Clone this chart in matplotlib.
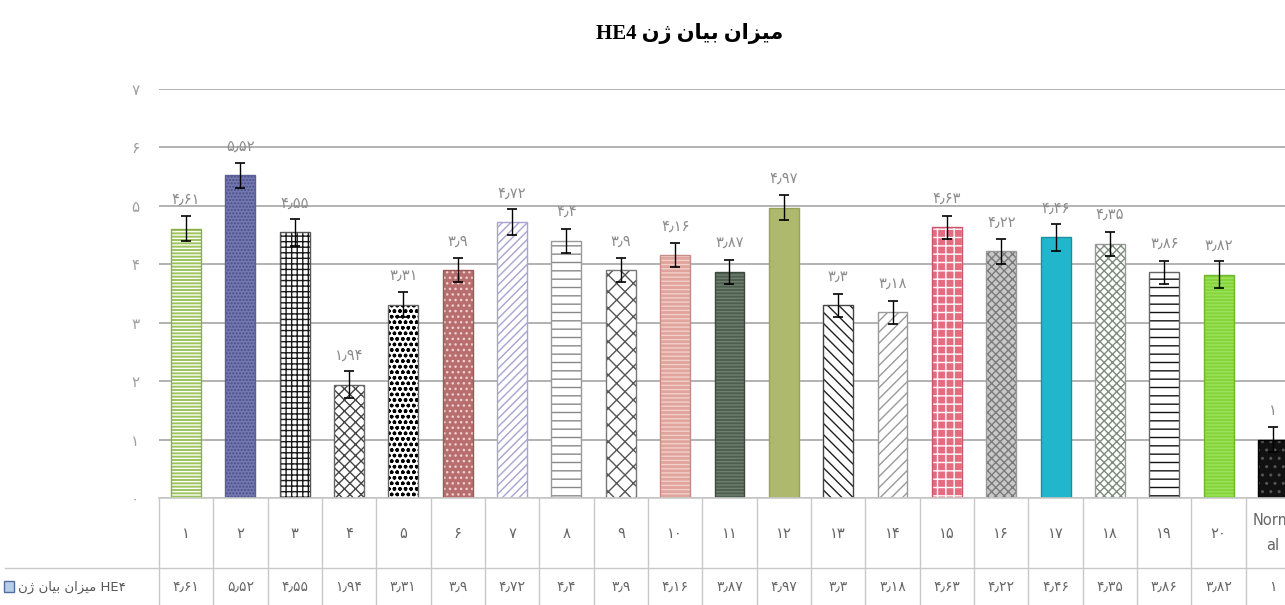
import matplotlib
matplotlib.use("Agg")
import matplotlib.pyplot as plt
from matplotlib.transforms import blended_transform_factory
from matplotlib.lines import Line2D
from matplotlib.patches import Rectangle

# ---------------- data ----------------
categories = ['۱', '۲', '۳', '۴', '۵', '۶', '۷', '۸', '۹', '۱۰',
              '۱۱', '۱۲', '۱۳', '۱۴', '۱۵', '۱۶', '۱۷', '۱۸', '۱۹', '۲۰', 'Normal']
values = [4.61, 5.52, 4.55, 1.94, 3.31, 3.9, 4.72, 4.4, 3.9, 4.16,
          3.87, 4.97, 3.3, 3.18, 4.63, 4.22, 4.46, 4.35, 3.86, 3.82, 1]
errors = [0.22, 0.22, 0.23, 0.23, 0.21, 0.21, 0.22, 0.21, 0.2, 0.2,
          0.21, 0.22, 0.2, 0.2, 0.2, 0.22, 0.23, 0.21, 0.2, 0.23, 0.22]
yticks = [0, 1, 2, 3, 4, 5, 6, 7]
title_fa = 'میزان بیان ژن'
title_en = 'HE4'
series_fa = 'میزان بیان ژن'
series_en = 'HE۴'

# ---------------- helpers ----------------
FORMS = {
    'م': ('\uFEE1', '\uFEE2', '\uFEE3', '\uFEE4'),
    'ی': ('\uFBFC', '\uFBFD', '\uFBFE', '\uFBFF'),
    'ن': ('\uFEE5', '\uFEE6', '\uFEE7', '\uFEE8'),
    'ب': ('\uFE8F', '\uFE90', '\uFE91', '\uFE92'),
    'ز': ('\uFEAF', '\uFEB0', None, None),
    'ا': ('\uFE8D', '\uFE8E', None, None),
    'ژ': ('\uFB8A', '\uFB8B', None, None),
}


def shape_rtl(text):
    out = []
    n = len(text)
    for i, ch in enumerate(text):
        if ch not in FORMS:
            out.append(ch)
            continue
        f = FORMS[ch]
        prev = text[i - 1] if i > 0 else None
        nxt = text[i + 1] if i < n - 1 else None
        jp = prev in FORMS and FORMS[prev][2] is not None
        jn = nxt in FORMS and f[2] is not None
        if jp and jn:
            out.append(f[3])
        elif jp:
            out.append(f[1])
        elif jn:
            out.append(f[2])
        else:
            out.append(f[0])
    return ''.join(reversed(out))


FA = str.maketrans('0123456789.', '۰۱۲۳۴۵۶۷۸۹٫')


def fa_num(v):
    return ('{:g}'.format(v)).translate(FA)


# bar styles: face, hatch, hatch colour, edge
styles = [
    ('#9DC35B', '-----', 'white', '#8AB04A'),
    ('#7478B0', '.....', '#4A4E85', '#5C6096'),
    ('white', '+++', '#1A1A1A', '#555555'),
    ('white', 'xxx', '#444444', '#666666'),
    ('white', 'ooo', '#000000', '#666666'),
    ('#B86E6E', '...', '#F0D0D0', '#9A5858'),
    ('white', '////', '#A8A3CF', '#A8A3CF'),
    ('white', '--', '#888888', '#999999'),
    ('white', 'xx', '#555555', '#777777'),
    ('#E0A49C', '----', '#F3CFC9', '#C88C84'),
    ('#4E5E4F', '-----', '#6F806F', '#3D4A3D'),
    ('#AEB96E', '', None, '#98A35A'),
    ('white', '\\\\\\', '#222222', '#444444'),
    ('white', '///', '#9A9A9A', '#999999'),
    ('#E36C80', '++', 'white', '#C9566A'),
    ('#C8C8C8', 'xxxx', '#7A7A7A', '#999999'),
    ('#21B6CB', '', None, '#1A8FA0'),
    ('white', 'xxxx', '#7D8C7D', '#999999'),
    ('white', '--', '#111111', '#666666'),
    ('#84D43C', '-----', '#9BE05A', '#6CB82C'),
    ('#111111', '..', '#555555', '#000000'),
]

plt.rcParams['font.family'] = ['DejaVu Sans']
plt.rcParams['hatch.linewidth'] = 1.0

W, H = 1285, 605
fig = plt.figure(figsize=(W / 100, H / 100), dpi=100)
fig.patch.set_facecolor('white')
ax = fig.add_axes([158.8 / W, 1 - 498 / H, 21 * 54.35 / W, 409 / H])

x = list(range(len(values)))
bw = 0.55
for i, (v, st) in enumerate(zip(values, styles)):
    face, hatch, hcol, edge = st
    ax.bar(i, v, width=bw, color=face, edgecolor='none', linewidth=0, zorder=2)
    if hatch:
        ax.bar(i, v, width=bw, color='none', edgecolor=hcol, hatch=hatch,
               linewidth=0, zorder=2.1)
    ax.bar(i, v, width=bw, color='none', edgecolor=edge, linewidth=1.0, zorder=2.2)

ax.errorbar(x, values, yerr=errors, fmt='none', ecolor='black', elinewidth=1.0,
            capsize=3.5, capthick=1.2, zorder=3)

for i, v in enumerate(values):
    ax.annotate(fa_num(v), (i, v), xytext=(0, 21), textcoords='offset points',
                ha='center', va='center', fontsize=10.5, color='#8C8C8C')

ax.set_xlim(-0.5, 20.5)
ax.set_ylim(0, 7)
ax.set_yticks(yticks)
ax.set_yticklabels([fa_num(t) for t in yticks], fontsize=11, color='#A0A0A0')
ax.tick_params(axis='y', length=0, pad=14)
ax.set_xticks([])
ax.yaxis.grid(True, color='#A6A6A6', linewidth=1.2)
ax.set_axisbelow(True)
for s in ax.spines.values():
    s.set_visible(False)

# ---------------- data table ----------------
tr = blended_transform_factory(ax.transData, fig.transFigure)
gcol = '#C8C8C8'
y_top = 1 - 498 / H
y_mid = 1 - 568 / H
for i in range(len(values) + 1):
    ax.plot([i - 0.5, i - 0.5], [y_top, 0], transform=tr, clip_on=False,
            color=gcol, linewidth=1.0)
fig.add_artist(Line2D([158.8 / W, 1], [y_top, y_top], color=gcol, linewidth=1.2,
                      transform=fig.transFigure))
fig.add_artist(Line2D([5 / W, 1], [y_mid, y_mid], color=gcol, linewidth=1.0,
                      transform=fig.transFigure))

for i, c in enumerate(categories):
    lab = 'Norm\nal' if c == 'Normal' else c
    ax.text(i, 1 - 533 / H, lab, transform=tr, ha='center', va='center',
            fontsize=10.5, color='#666666', linespacing=1.9,
            family=['Liberation Sans Narrow', 'DejaVu Sans'], clip_on=False)
for i, v in enumerate(values):
    ax.text(i, 1 - 587 / H, fa_num(v), transform=tr, ha='center', va='center',
            fontsize=10, color='#666666', clip_on=False)

# legend key + series name
fig.add_artist(Rectangle((4 / W, 1 - 592 / H), 10 / W, 11 / H, facecolor='#B8CDE9',
                         edgecolor='#4F6F9F', linewidth=1.0, transform=fig.transFigure))
fig.text(18 / W, 1 - 587 / H, shape_rtl(series_fa) + ' ' + series_en,
         ha='left', va='center', fontsize=9.5, color='#555555')

# ---------------- title ----------------
fig.text(690 / W, 1 - 33 / H, title_en + ' ' + shape_rtl(title_fa),
         ha='center', va='center', fontsize=15, fontweight='bold', color='black',
         family=['Liberation Serif', 'DejaVu Sans'])

fig.savefig('out.png', dpi=100)
